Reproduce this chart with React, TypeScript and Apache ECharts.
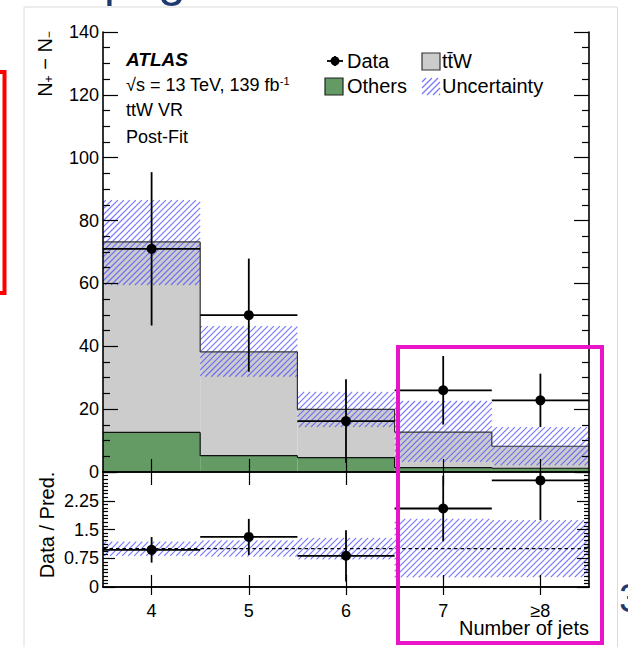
import React, { useEffect, useRef } from 'react';
import * as echarts from 'echarts';

// ---------------- data ----------------
const categories = ['4', '5', '6', '7', '≥8'];
const othersYield = [12.6, 5.2, 4.6, 1.4, 1.2];
const ttWYield = [60.6, 33.0, 15.3, 11.3, 7.0];
const uncUp = [86.5, 46.4, 25.5, 22.6, 14.3];
const uncDown = [59.5, 30.3, 14.3, 3.2, 2.1];
const dataYield = [71.0, 49.9, 16.2, 26.0, 22.8];
const dataErr = [24.4, 18.0, 13.3, 10.9, 8.5];

const FONT = "'Liberation Sans', Arial, Helvetica, sans-serif";
const NAVY = '#1f3a70';
const GREEN = '#649a64';
const GRAY = '#cccccc';
const HATCH = { stroke: 'rgba(85,85,255,0.8)', lineWidth: 1.15 };

function hatchLines(x0: number, y0: number, w: number, h: number, s: number) {
  const out: any[] = [];
  const x1 = x0 + w;
  const y1 = y0 + h;
  const cStart = Math.ceil((x0 + y0) / s) * s;
  for (let c = cStart; c <= x1 + y1; c += s) {
    const xa = Math.max(x0, c - y1);
    const xb = Math.min(x1, c - y0);
    if (xb <= xa) continue;
    out.push({ type: 'line', shape: { x1: xa, y1: c - xa, x2: xb, y2: c - xb }, style: HATCH, silent: true });
  }
  return out;
}

const totalYield = ttWYield.map((v, i) => v + othersYield[i]);

function buildOption(): any {
  const axisLineStyle = { color: '#000', width: 1.6 };
  const tickStyle = { color: '#000', width: 1.2 };
  const xCommon = (grid: number, pos: string, len: number, labels: boolean) => ({
    gridIndex: grid,
    type: 'category',
    data: categories,
    position: pos,
    boundaryGap: true,
    z: 10,
    axisLine: { show: true, lineStyle: axisLineStyle },
    axisTick: { show: true, inside: true, alignWithLabel: true, interval: 0, length: len, lineStyle: tickStyle },
    axisLabel: labels
      ? { show: true, fontSize: 18, color: '#000', margin: 15, fontFamily: FONT, interval: 0 }
      : { show: false },
    splitLine: { show: false },
  });
  const yCommon = (grid: number, pos: string, labels: boolean, upper: boolean) => ({
    gridIndex: grid,
    type: 'value',
    position: pos,
    min: 0,
    max: upper ? 140 : 3,
    interval: upper ? 20 : 0.75,
    z: 10,
    axisLine: { show: true, lineStyle: axisLineStyle },
    axisTick: { show: true, inside: true, length: upper ? 15 : 12, lineStyle: tickStyle },
    minorTick: { show: true, splitNumber: upper ? 4 : 8, length: upper ? 7 : 5, lineStyle: tickStyle },
    axisLabel: labels
      ? {
          show: true,
          fontSize: 18,
          color: '#000',
          margin: 4,
          fontFamily: FONT,
          formatter: (v: number) => (!upper && v >= 3 ? '' : String(v)),
        }
      : { show: false },
    splitLine: { show: false },
  });

  const stackData = categories.map((_, i) => [i, othersYield[i], totalYield[i]]);
  const outlineData = categories.map((_, i) => [
    i,
    othersYield[i],
    totalYield[i],
    i > 0 ? othersYield[i - 1] : -1,
    i > 0 ? totalYield[i - 1] : -1,
  ]);
  const uncData = categories.map((_, i) => [i, uncDown[i], uncUp[i]]);
  const pointData = categories.map((_, i) => [i, dataYield[i], dataErr[i]]);
  const ratioUnc = categories.map((_, i) => [i, uncDown[i] / totalYield[i], uncUp[i] / totalYield[i]]);
  const ratioPts = categories.map((_, i) => [i, dataYield[i] / totalYield[i], dataErr[i] / totalYield[i]]);

  const hatchRender = (params: any, api: any) => {
    const i = api.value(0);
    const bw = api.size([1, 0])[0];
    const lo = api.coord([i, api.value(1)]);
    const hi = api.coord([i, api.value(2)]);
    const xL = lo[0] - bw / 2;
    return { type: 'group', children: hatchLines(xL, hi[1], bw, lo[1] - hi[1], 6) };
  };

  const pointRender = (yMax: number) => (params: any, api: any) => {
    const i = api.value(0);
    const v = api.value(1);
    const e = api.value(2);
    const bw = api.size([1, 0])[0];
    const c = api.coord([i, v]);
    const top = api.coord([i, Math.min(yMax, v + e)]);
    const bot = api.coord([i, Math.max(0, v - e)]);
    const st = { stroke: '#000', lineWidth: 1.8 };
    return {
      type: 'group',
      children: [
        { type: 'line', shape: { x1: c[0] - bw / 2, y1: c[1], x2: c[0] + bw / 2, y2: c[1] }, style: st },
        { type: 'line', shape: { x1: c[0], y1: top[1], x2: c[0], y2: bot[1] }, style: st },
        { type: 'circle', shape: { cx: c[0], cy: c[1], r: 5 }, style: { fill: '#000' } },
      ],
    };
  };

  const txt = (text: string, x: number, y: number, extra: any = {}) => ({
    type: 'text',
    x,
    y,
    silent: true,
    style: { text, fill: '#000', fontSize: 18, fontFamily: FONT, verticalAlign: 'middle', align: 'left', ...extra },
  });

  const graphics: any[] = [
    // slide frame
    { type: 'line', shape: { x1: 24, y1: 7, x2: 617, y2: 7 }, style: { stroke: '#dcdcdc', lineWidth: 1 }, silent: true },
    { type: 'line', shape: { x1: 24, y1: 7, x2: 24, y2: 647 }, style: { stroke: '#dcdcdc', lineWidth: 1 }, silent: true },
    { type: 'line', shape: { x1: 617.5, y1: 7, x2: 617.5, y2: 647 }, style: { stroke: '#dcdcdc', lineWidth: 1 }, silent: true },
    // fragments of slide title / page text
    txt('p', 104, -21, { fontSize: 48, fill: NAVY }),
    txt('g', 158, -21, { fontSize: 50, fill: NAVY }),
    txt('3', 619, 598, { fontSize: 40, fill: NAVY }),
    // ATLAS labels
    txt('ATLAS', 126, 59, { fontWeight: 'bold', fontStyle: 'italic', fontSize: 19 }),
    {
      type: 'text',
      x: 126,
      y: 85,
      silent: true,
      style: {
        text: '√s = 13 TeV, 139 fb{sup|-1}',
        fill: '#000',
        fontSize: 18,
        fontFamily: FONT,
        verticalAlign: 'middle',
        rich: { sup: { fontSize: 11, verticalAlign: 'top', fontFamily: FONT, fill: '#000', padding: [0, 0, 8, 0] } },
      },
    },
    txt('ttW VR', 126, 110),
    txt('Post-Fit', 126, 137),
    // legend
    { type: 'line', shape: { x1: 327, y1: 61, x2: 343, y2: 61 }, style: { stroke: '#000', lineWidth: 1.8 }, silent: true },
    { type: 'line', shape: { x1: 335, y1: 56, x2: 335, y2: 66 }, style: { stroke: '#000', lineWidth: 1.8 }, silent: true },
    { type: 'circle', shape: { cx: 335, cy: 61, r: 4.5 }, style: { fill: '#000' }, silent: true },
    txt('Data', 347, 61, { fontSize: 20 }),
    { type: 'rect', shape: { x: 422, y: 53, width: 18, height: 17 }, style: { fill: GRAY, stroke: '#333', lineWidth: 1.2 }, silent: true },
    txt('tt̄W', 442, 61, { fontSize: 20 }),
    { type: 'rect', shape: { x: 325, y: 78, width: 18, height: 17 }, style: { fill: GREEN, stroke: '#222', lineWidth: 1.2 }, silent: true },
    txt('Others', 347, 86, { fontSize: 20 }),
    { type: 'group', children: hatchLines(422, 78, 18, 17, 6), silent: true },
    txt('Uncertainty', 442, 86, { fontSize: 20 }),
    // axis titles
    {
      type: 'text',
      x: 45,
      y: 64,
      rotation: Math.PI / 2,
      silent: true,
      style: {
        text: 'N{s|+} − N{s|−}',
        fill: '#000',
        fontSize: 20,
        fontFamily: FONT,
        align: 'center',
        verticalAlign: 'middle',
        rich: { s: { fontSize: 12, verticalAlign: 'bottom', fontFamily: FONT, fill: '#000', padding: [8, 0, 0, 0] } },
      },
    },
    {
      type: 'text',
      x: 47,
      y: 525,
      rotation: Math.PI / 2,
      silent: true,
      style: { text: 'Data / Pred.', fill: '#000', fontSize: 20, fontFamily: FONT, align: 'center', verticalAlign: 'middle' },
    },
    txt('Number of jets', 589, 628, { fontSize: 20, align: 'right' }),
    // annotation boxes
    { type: 'rect', z: 100, shape: { x: -10, y: 72, width: 14.5, height: 221 }, style: { fill: 'none', stroke: '#ff0000', lineWidth: 4 }, silent: true },
    { type: 'rect', z: 100, shape: { x: 398, y: 347, width: 204, height: 296 }, style: { fill: 'none', stroke: '#e815c8', lineWidth: 4 }, silent: true },
  ];

  return {
    animation: false,
    backgroundColor: '#ffffff',
    textStyle: { fontFamily: FONT },
    grid: [
      { left: 103, top: 32, width: 486, height: 440, outerBoundsMode: 'none' },
      { left: 103, top: 472, width: 486, height: 115, outerBoundsMode: 'none' },
    ],
    xAxis: [xCommon(0, 'bottom', 13, false), xCommon(0, 'top', 13, false), xCommon(1, 'bottom', 12, true), xCommon(1, 'top', 8, false)],
    yAxis: [yCommon(0, 'left', true, true), yCommon(0, 'right', false, true), yCommon(1, 'left', true, false), yCommon(1, 'right', false, false)],
    graphic: graphics,
    series: [
      {
        type: 'custom',
        name: 'stack',
        xAxisIndex: 0,
        yAxisIndex: 0,
        z: 1,
        silent: true,
        data: stackData,
        renderItem: (params: any, api: any) => {
          const i = api.value(0);
          const bw = api.size([1, 0])[0];
          const b = api.coord([i, 0]);
          const o = api.coord([i, api.value(1)]);
          const t = api.coord([i, api.value(2)]);
          const xL = b[0] - bw / 2;
          return {
            type: 'group',
            children: [
              { type: 'rect', shape: { x: xL, y: t[1], width: bw, height: o[1] - t[1] }, style: { fill: GRAY } },
              { type: 'rect', shape: { x: xL, y: o[1], width: bw, height: b[1] - o[1] }, style: { fill: GREEN } },
            ],
          };
        },
      },
      {
        type: 'custom',
        name: 'unc',
        xAxisIndex: 0,
        yAxisIndex: 0,
        z: 2,
        silent: true,
        data: uncData,
        renderItem: hatchRender,
      },
      {
        type: 'custom',
        name: 'outline',
        xAxisIndex: 0,
        yAxisIndex: 0,
        z: 3,
        silent: true,
        data: outlineData,
        renderItem: (params: any, api: any) => {
          const i = api.value(0);
          const bw = api.size([1, 0])[0];
          const o = api.coord([i, api.value(1)]);
          const t = api.coord([i, api.value(2)]);
          const xL = o[0] - bw / 2;
          const xR = o[0] + bw / 2;
          const st = { stroke: '#333', lineWidth: 1.2 };
          const ch: any[] = [
            { type: 'line', shape: { x1: xL, y1: o[1], x2: xR, y2: o[1] }, style: { stroke: '#111', lineWidth: 1.2 } },
            { type: 'line', shape: { x1: xL, y1: t[1], x2: xR, y2: t[1] }, style: st },
          ];
          const po = api.value(3);
          const pt = api.value(4);
          if (po >= 0) {
            const pO = api.coord([i, po]);
            const pT = api.coord([i, pt]);
            ch.push({ type: 'line', shape: { x1: xL, y1: pO[1], x2: xL, y2: o[1] }, style: { stroke: '#111', lineWidth: 1.2 } });
            ch.push({ type: 'line', shape: { x1: xL, y1: pT[1], x2: xL, y2: t[1] }, style: st });
          }
          return { type: 'group', children: ch };
        },
      },
      {
        type: 'custom',
        name: 'data',
        xAxisIndex: 0,
        yAxisIndex: 0,
        z: 4,
        silent: true,
        data: pointData,
        renderItem: pointRender(140),
      },
      {
        type: 'custom',
        name: 'ratioUnc',
        xAxisIndex: 2,
        yAxisIndex: 2,
        z: 2,
        silent: true,
        data: ratioUnc,
        renderItem: hatchRender,
      },
      {
        type: 'custom',
        name: 'unity',
        xAxisIndex: 2,
        yAxisIndex: 2,
        z: 3,
        silent: true,
        data: [[0, 1]],
        renderItem: (params: any, api: any) => {
          const bw = api.size([1, 0])[0];
          const a = api.coord([0, api.value(1)]);
          const b = api.coord([categories.length - 1, api.value(1)]);
          return {
            type: 'line',
            shape: { x1: a[0] - bw / 2, y1: a[1], x2: b[0] + bw / 2, y2: b[1] },
            style: { stroke: '#000', lineWidth: 1.2, lineDash: [3.5, 3] },
          };
        },
      },
      {
        type: 'custom',
        name: 'ratioData',
        xAxisIndex: 2,
        yAxisIndex: 2,
        z: 4,
        silent: true,
        data: ratioPts,
        renderItem: pointRender(3),
      },
    ],
  };
}

export default function App() {
  const ref = useRef<HTMLDivElement>(null);
  useEffect(() => {
    document.body.style.margin = '0';
    const chart = echarts.init(ref.current!, null, { renderer: 'svg' });
    chart.setOption(buildOption());
    return () => chart.dispose();
  }, []);
  return <div ref={ref} style={{ position: 'absolute', left: 0, top: 0, width: 628, height: 647 }} />;
}
